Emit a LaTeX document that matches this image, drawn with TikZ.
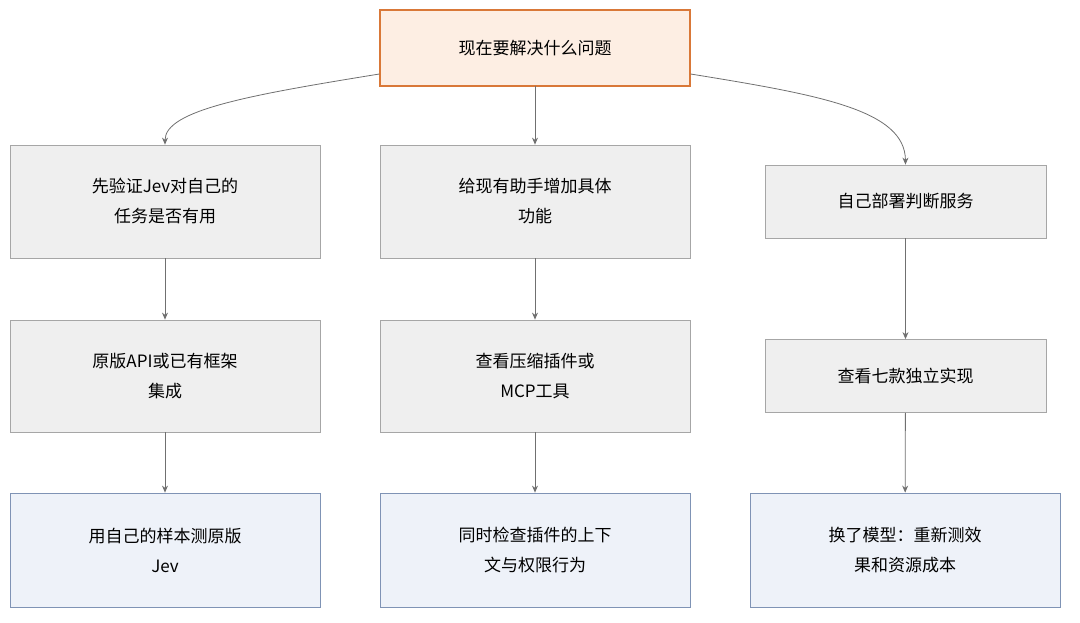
\documentclass[tikz,border=0pt]{standalone}
\usepackage{fontspec}
\setmainfont{Noto Sans CJK SC}
\usetikzlibrary{arrows.meta}
\definecolor{gfill}{HTML}{EFEFEF}\definecolor{gline}{HTML}{A6A6A6}
\definecolor{bfill}{HTML}{EEF2F9}\definecolor{bline}{HTML}{7F93B5}
\definecolor{ofill}{HTML}{FDEEE3}\definecolor{oline}{HTML}{D97838}
\definecolor{arr}{HTML}{707070}
\begin{document}
\begin{tikzpicture}[x=1pt,y=-1pt,
 box/.style={draw=gline,fill=gfill,line width=0.8pt,align=center,font=\fontsize{17}{30}\selectfont,inner sep=0pt},
 gbox/.style={box},
 bbox/.style={box,draw=bline,fill=bfill},
 obox/.style={box,draw=oline,fill=ofill,line width=1.2pt},
 ar/.style={draw=arr,line width=0.8pt,-{Stealth[length=7pt,width=6pt]}}]
\useasboundingbox (0,0) rectangle (1080,623);
\node[obox,minimum width=310pt,minimum height=76pt] (t) at (535,48) {现在要解决什么问题};
\node[gbox,minimum width=310pt,minimum height=113pt] (a1) at (165,201.5) {先验证Jev对自己的\\任务是否有用};
\node[gbox,minimum width=310pt,minimum height=113pt] (b1) at (535,201.5) {给现有助手增加具体\\功能};
\node[gbox,minimum width=281pt,minimum height=73pt] (c1) at (905.5,201.5) {自己部署判断服务};
\node[gbox,minimum width=310pt,minimum height=112pt] (a2) at (165,376) {原版API或已有框架\\集成};
\node[gbox,minimum width=310pt,minimum height=112pt] (b2) at (535,376) {查看压缩插件或\\MCP工具};
\node[gbox,minimum width=281pt,minimum height=73pt] (c2) at (905.5,376) {查看七款独立实现};
\node[bbox,minimum width=310pt,minimum height=114pt] (a3) at (165,550) {用自己的样本测原版\\Jev};
\node[bbox,minimum width=310pt,minimum height=114pt] (b3) at (535,550) {同时检查插件的上下\\文与权限行为};
\node[bbox,minimum width=310pt,minimum height=114pt] (c3) at (905,550) {换了模型：重新测效\\果和资源成本};
\draw[ar] (t.south west|-0,74) .. controls (250,95) and (165,110) .. (a1.north);
\draw[ar] (t) ++(0,38) -- (b1.north);
\draw[ar] (t.south east|-0,74) .. controls (820,95) and (905,110) .. (c1.north);
\foreach \u/\v in {a1/a2,a2/a3,b1/b2,b2/b3,c1/c2,c2/c3} \draw[ar] (\u) -- (\v);
\end{tikzpicture}
\end{document}
